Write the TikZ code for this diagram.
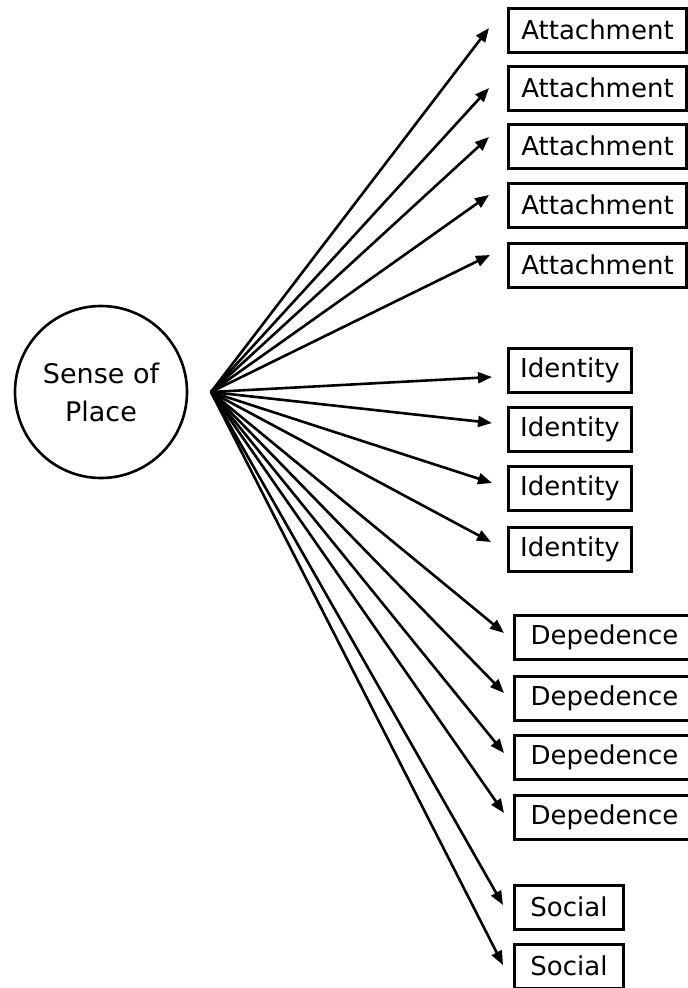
\documentclass[tikz,border=0pt]{standalone}
\usepackage{fontspec}
\setmainfont{DejaVu Sans}
\usetikzlibrary{arrows.meta}

\tikzset{
  place/.style={circle, draw=black, line width=2.6pt, minimum size=172pt, inner sep=0pt, align=center, font=\fontsize{27}{38}\selectfont},
  facet/.style={draw=black, line width=3pt, minimum height=44pt, inner sep=0pt, anchor=west, font=\fontsize{26}{31}\selectfont},
  arr/.style={line width=2.6pt, -{Triangle[length=14pt,width=11pt]}}
}

\begin{document}
\begin{tikzpicture}[x=1pt,y=-1pt]
\useasboundingbox (0,0) rectangle (688,988);
\node[place] (sop) at (101,392) {Sense of\\Place};
\coordinate (hub) at (211,392);
\node[facet, minimum width=178pt] (a1) at (507,30) {Attachment};
\node[facet, minimum width=178pt] (a2) at (507,88) {Attachment};
\node[facet, minimum width=178pt] (a3) at (507,146) {Attachment};
\node[facet, minimum width=178pt] (a4) at (507,205) {Attachment};
\node[facet, minimum width=178pt] (a5) at (507,265) {Attachment};
\node[facet, minimum width=123pt] (i1) at (507,370) {Identity};
\node[facet, minimum width=123pt] (i2) at (507,429) {Identity};
\node[facet, minimum width=123pt] (i3) at (507,488) {Identity};
\node[facet, minimum width=123pt] (i4) at (507,549) {Identity};
\node[facet, minimum width=180pt] (d1) at (513,637) {Depedence};
\node[facet, minimum width=180pt] (d2) at (513,698) {Depedence};
\node[facet, minimum width=180pt] (d3) at (513,757) {Depedence};
\node[facet, minimum width=180pt] (d4) at (513,817) {Depedence};
\node[facet, minimum width=109pt] (s1) at (513,907) {Social};
\node[facet, minimum width=109pt] (s2) at (513,966) {Social};
\draw[arr] (hub) -- ([xshift=-18pt,yshift=2pt]a1.west);
\draw[arr] (hub) -- ([xshift=-18pt]a2.west);
\draw[arr] (hub) -- ([xshift=-18pt,yshift=9pt]a3.west);
\draw[arr] (hub) -- ([xshift=-18pt,yshift=10pt]a4.west);
\draw[arr] (hub) -- ([xshift=-17pt,yshift=10pt]a5.west);
\draw[arr] (hub) -- ([xshift=-15pt,yshift=-7pt]i1.west);
\draw[arr] (hub) -- ([xshift=-15pt,yshift=6pt]i2.west);
\draw[arr] (hub) -- ([xshift=-15pt,yshift=5pt]i3.west);
\draw[arr] (hub) -- ([xshift=-16pt,yshift=7pt]i4.west);
\draw[arr] (hub) -- ([xshift=-9pt,yshift=4pt]d1.west);
\draw[arr] (hub) -- ([xshift=-9pt,yshift=5pt]d2.west);
\draw[arr] (hub) -- ([xshift=-9pt,yshift=4pt]d3.west);
\draw[arr] (hub) -- ([xshift=-9pt,yshift=4pt]d4.west);
\draw[arr] (hub) -- ([xshift=-10pt,yshift=2pt]s1.west);
\draw[arr] (hub) -- ([xshift=-10pt,yshift=1pt]s2.west);
\end{tikzpicture}
\end{document}
